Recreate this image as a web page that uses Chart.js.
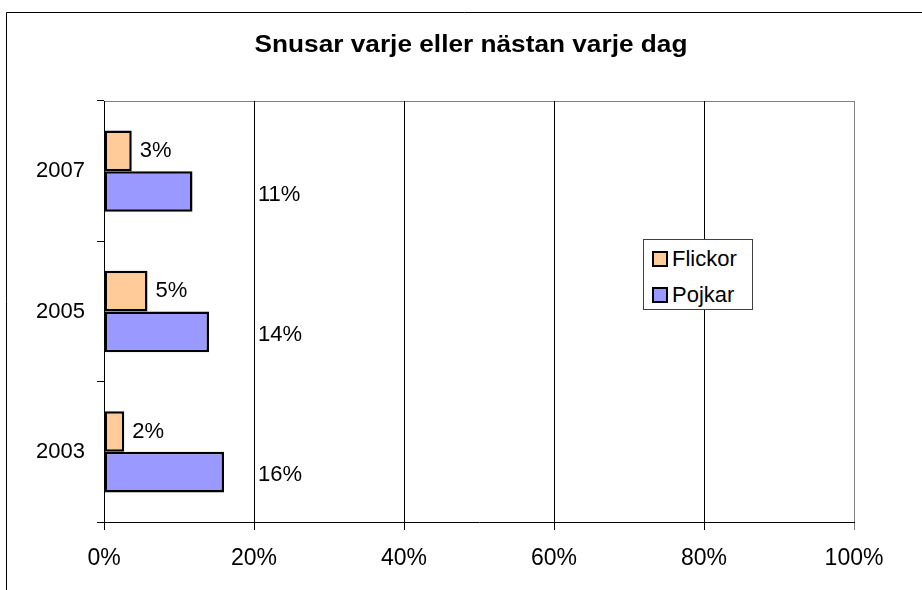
<!DOCTYPE html>
<html>
<head>
<meta charset="utf-8">
<script src="https://cdn.jsdelivr.net/npm/chart.js@4/dist/chart.umd.min.js"></script>
<style>
  body { margin: 0; background: #fff; }
  #wrap { position: relative; width: 922px; height: 590px; }
  #legend {
    position: absolute; left: 643px; top: 239px; width: 110px; height: 71px;
    border: 1px solid #404040; background: #fff; box-sizing: border-box;
    font: 22px 'Liberation Sans', Arial, sans-serif; color: #000;
    padding: 8px 0 0 8px;
  }
  #legend .item { display: flex; align-items: center; height: 38px; margin-top: -8px; }
  #legend .item + .item { margin-top: -2px; }
  #legend .sw { width: 12px; height: 12px; border: 2px solid #000; margin-right: 4px; }
</style>
</head>
<body>
<div id="wrap">
  <canvas id="chart" width="922" height="590"></canvas>
  <div id="legend"></div>
</div>
<script>
/* Horizontal bars: Snusar varje eller nästan varje dag, Flickor vs Pojkar */

const FONT = "'Liberation Sans', Arial, sans-serif";
const TITLE = 'Snusar varje eller nästan varje dag';

const years = ['2007', '2005', '2003'];
const flickor = [3.7, 5.8, 2.7];
const pojkar = [11.8, 14.0, 16.0];
const flickorLabels = ['3%', '5%', '2%'];
const pojkarLabels = ['11%', '14%', '16%'];
const xTicks = [0, 20, 40, 60, 80, 100];

const ORANGE = '#FFCC99';
const BLUE = '#9999FF';
const POJKAR_LABEL_AT = 20; // those labels sit just right of the 20% line in the original

const frame = {
  id: 'frame',
  beforeDraw(chart) {
    const { ctx, chartArea: a } = chart;
    ctx.save();
    ctx.strokeStyle = '#000';
    ctx.lineWidth = 1;
    ctx.beginPath();
    ctx.moveTo(6.5, 590);
    ctx.lineTo(6.5, 12.5);
    ctx.lineTo(922, 12.5);
    ctx.stroke();
    ctx.strokeStyle = '#808080';
    ctx.beginPath();
    ctx.moveTo(a.left, a.top + 0.5);
    ctx.lineTo(a.right, a.top + 0.5);
    ctx.stroke();
    // the original title is a bit wide for its height, so stretch it a little
    ctx.fillStyle = '#000';
    ctx.font = 'bold 23px ' + FONT;
    ctx.textAlign = 'center';
    ctx.textBaseline = 'middle';
    ctx.translate(471, 46);
    ctx.scale(1.14, 1);
    ctx.fillText(TITLE, 0, 0);
    ctx.restore();
  },
  afterDatasetsDraw(chart) {
    const { ctx } = chart;
    const xs = chart.scales.x;
    ctx.save();
    ctx.fillStyle = '#000';
    ctx.font = '22px ' + FONT;
    ctx.textAlign = 'left';
    ctx.textBaseline = 'middle';
    chart.getDatasetMeta(0).data.forEach((bar, i) => {
      ctx.fillText(flickorLabels[i], bar.x + 8, bar.y);
    });
    chart.getDatasetMeta(1).data.forEach((bar, i) => {
      ctx.fillText(pojkarLabels[i], xs.getPixelForValue(POJKAR_LABEL_AT) + 4, bar.y + 3);
    });
    ctx.restore();
  },
};

const chart = new Chart(document.getElementById('chart'), {
  type: 'bar',
  data: {
    labels: years,
    datasets: [
      { label: 'Flickor', data: flickor, backgroundColor: ORANGE, borderColor: '#000', borderWidth: 2.5, borderSkipped: false },
      { label: 'Pojkar', data: pojkar, backgroundColor: BLUE, borderColor: '#000', borderWidth: 2.5, borderSkipped: false },
    ],
  },
  options: {
    indexAxis: 'y',
    responsive: false,
    animation: false,
    categoryPercentage: 0.58,
    barPercentage: 1,
    layout: { padding: { top: 101, right: 68, left: 0, bottom: 0 } },
    plugins: { legend: { display: false }, title: { display: false }, tooltip: { enabled: false } },
    scales: {
      x: {
        min: 0, max: 100,
        afterBuildTicks: (s) => { s.ticks = xTicks.map((v) => ({ value: v })); },
        afterFit: (s) => { s.height = 68; },
        ticks: { callback: (v) => v + '%', color: '#000', font: { family: FONT, size: 23 }, padding: 15, maxRotation: 0 },
        grid: { color: (c) => (c.index === xTicks.length - 1 ? '#808080' : '#000'), lineWidth: 1, tickLength: 8 },
        border: { color: '#000', width: 1 },
      },
      y: {
        afterFit: (s) => { s.width = 104; },
        ticks: { color: '#000', font: { family: FONT, size: 22 }, padding: 12 },
        grid: { drawOnChartArea: false, color: '#000', tickLength: 7 },
        border: { color: '#000', width: 1 },
      },
    },
  },
  plugins: [frame],
});

document.getElementById('legend').innerHTML = chart.data.datasets
  .map((d) => `<div class="item"><span class="sw" style="background:${d.backgroundColor}"></span>${d.label}</div>`)
  .join('');
</script>
</body>
</html>
